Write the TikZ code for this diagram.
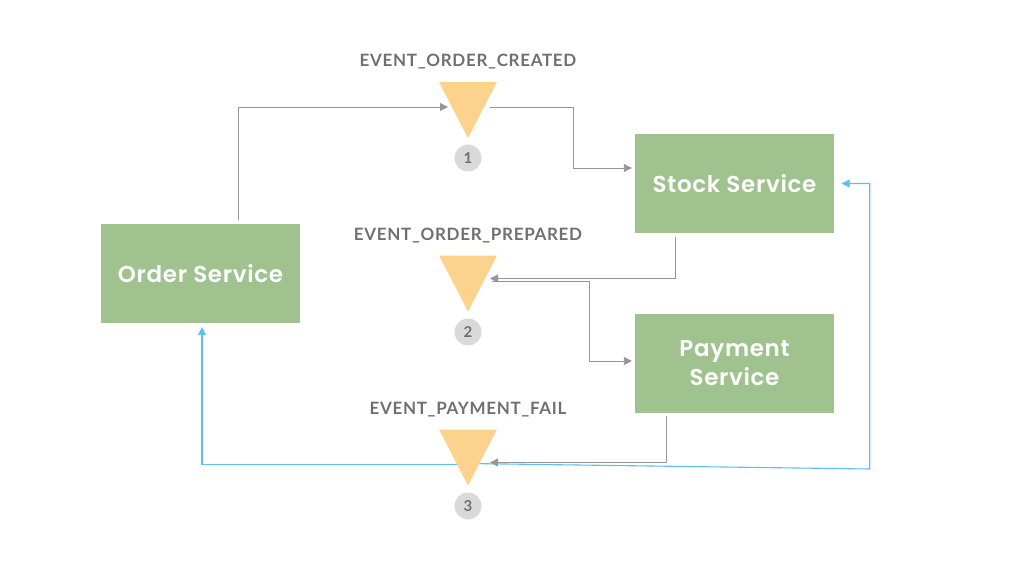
\documentclass[tikz,border=0pt]{standalone}
\usepackage{fontspec}
\setmainfont{Lato}
\newfontfamily\boxfont{Poppins}[UprightFont={* SemiBold}, LetterSpace=3]
\newfontfamily\labelfont{Lato}[UprightFont={* Bold}, LetterSpace=4]
\usetikzlibrary{arrows.meta,backgrounds}

\definecolor{svcgreen}{RGB}{160,194,143}
\definecolor{topicyellow}{RGB}{253,210,140}
\definecolor{badgegray}{RGB}{217,217,217}
\definecolor{labelgray}{RGB}{112,112,112}
\definecolor{linegray}{RGB}{150,150,150}
\definecolor{failblue}{RGB}{91,192,240}

\begin{document}
\begin{tikzpicture}[x=1pt,y=-1pt,
  service/.style={fill=svcgreen, minimum width=199pt, minimum height=99pt, inner sep=0pt,
    text=white, align=center, font=\boxfont\fontsize{23}{29}\selectfont},
  topic/.style={fill=topicyellow},
  topiclabel/.style={text=labelgray, font=\labelfont\fontsize{17}{20}\selectfont},
  badge/.style={circle, fill=badgegray, minimum size=27pt, inner sep=0pt,
    text=labelgray, font=\bfseries\fontsize{15}{17}\selectfont},
  flow/.style={draw=linegray, line width=0.9pt, -{Triangle[length=8pt,width=8pt]}},
  fail/.style={flow, draw=failblue, line width=1.1pt}]
\useasboundingbox (0,0) rectangle (1024,569);

% services
\node[service] (order) at (200.5,273.5) {Order Service};
\node[service] (stock) at (734.5,183.5) {Stock Service};
\node[service] (payment) at (734.5,363.5) {Payment\\Service};

% topics
\coordinate (created) at (468,110);
\fill[topic] ([xshift=-29pt,yshift=28pt]created) -- ([xshift=29pt,yshift=28pt]created) -- ([yshift=-28pt]created) -- cycle;
\node[topiclabel] (createdlabel) at (468,62) {EVENT\_ORDER\_CREATED};
\node[badge] (createdbadge) at (468,158) {1};

\coordinate (prepared) at (468,283.5);
\fill[topic] ([xshift=-29pt,yshift=28pt]prepared) -- ([xshift=29pt,yshift=28pt]prepared) -- ([yshift=-28pt]prepared) -- cycle;
\node[topiclabel] (preparedlabel) at (468,236) {EVENT\_ORDER\_PREPARED};
\node[badge] (preparedbadge) at (468,332) {2};

\coordinate (failed) at (468,457.5);
\fill[topic] ([xshift=-29pt,yshift=28pt]failed) -- ([xshift=29pt,yshift=28pt]failed) -- ([yshift=-28pt]failed) -- cycle;
\node[topiclabel] (failedlabel) at (468,410) {EVENT\_PAYMENT\_FAIL};
\node[badge] (failedbadge) at (468,506) {3};

% flows
\draw[flow, shorten <=4pt] ([xshift=37.5pt]order.north) |- ([xshift=-20pt,yshift=3pt]created);
\draw[flow, shorten >=3pt] ([xshift=22pt,yshift=3pt]created) -| ([xshift=-61pt,yshift=15.5pt]stock.west) -- ([yshift=15.5pt]stock.west);
\draw[flow, shorten <=4pt] ([xshift=-59.5pt]stock.south) |- ([xshift=22pt,yshift=5pt]prepared);
\draw[flow, shorten >=3pt] ([xshift=24pt,yshift=2pt]prepared) -| ([xshift=-45pt,yshift=2.5pt]payment.west) -- ([yshift=2.5pt]payment.west);
\draw[flow, shorten <=3pt] ([xshift=-68.5pt]payment.south) |- ([xshift=22pt,yshift=-5pt]failed);

\begin{scope}[on background layer]
\draw[fail, shorten >=4pt] ([yshift=-7pt]failed) -| ([xshift=1.5pt]order.south);
\draw[fail, shorten >=7.5pt] ([yshift=-6pt]failed) -- ([xshift=35.5pt,yshift=-285.5pt]stock.east) |- (stock.east);
\end{scope}
\end{tikzpicture}
\end{document}
